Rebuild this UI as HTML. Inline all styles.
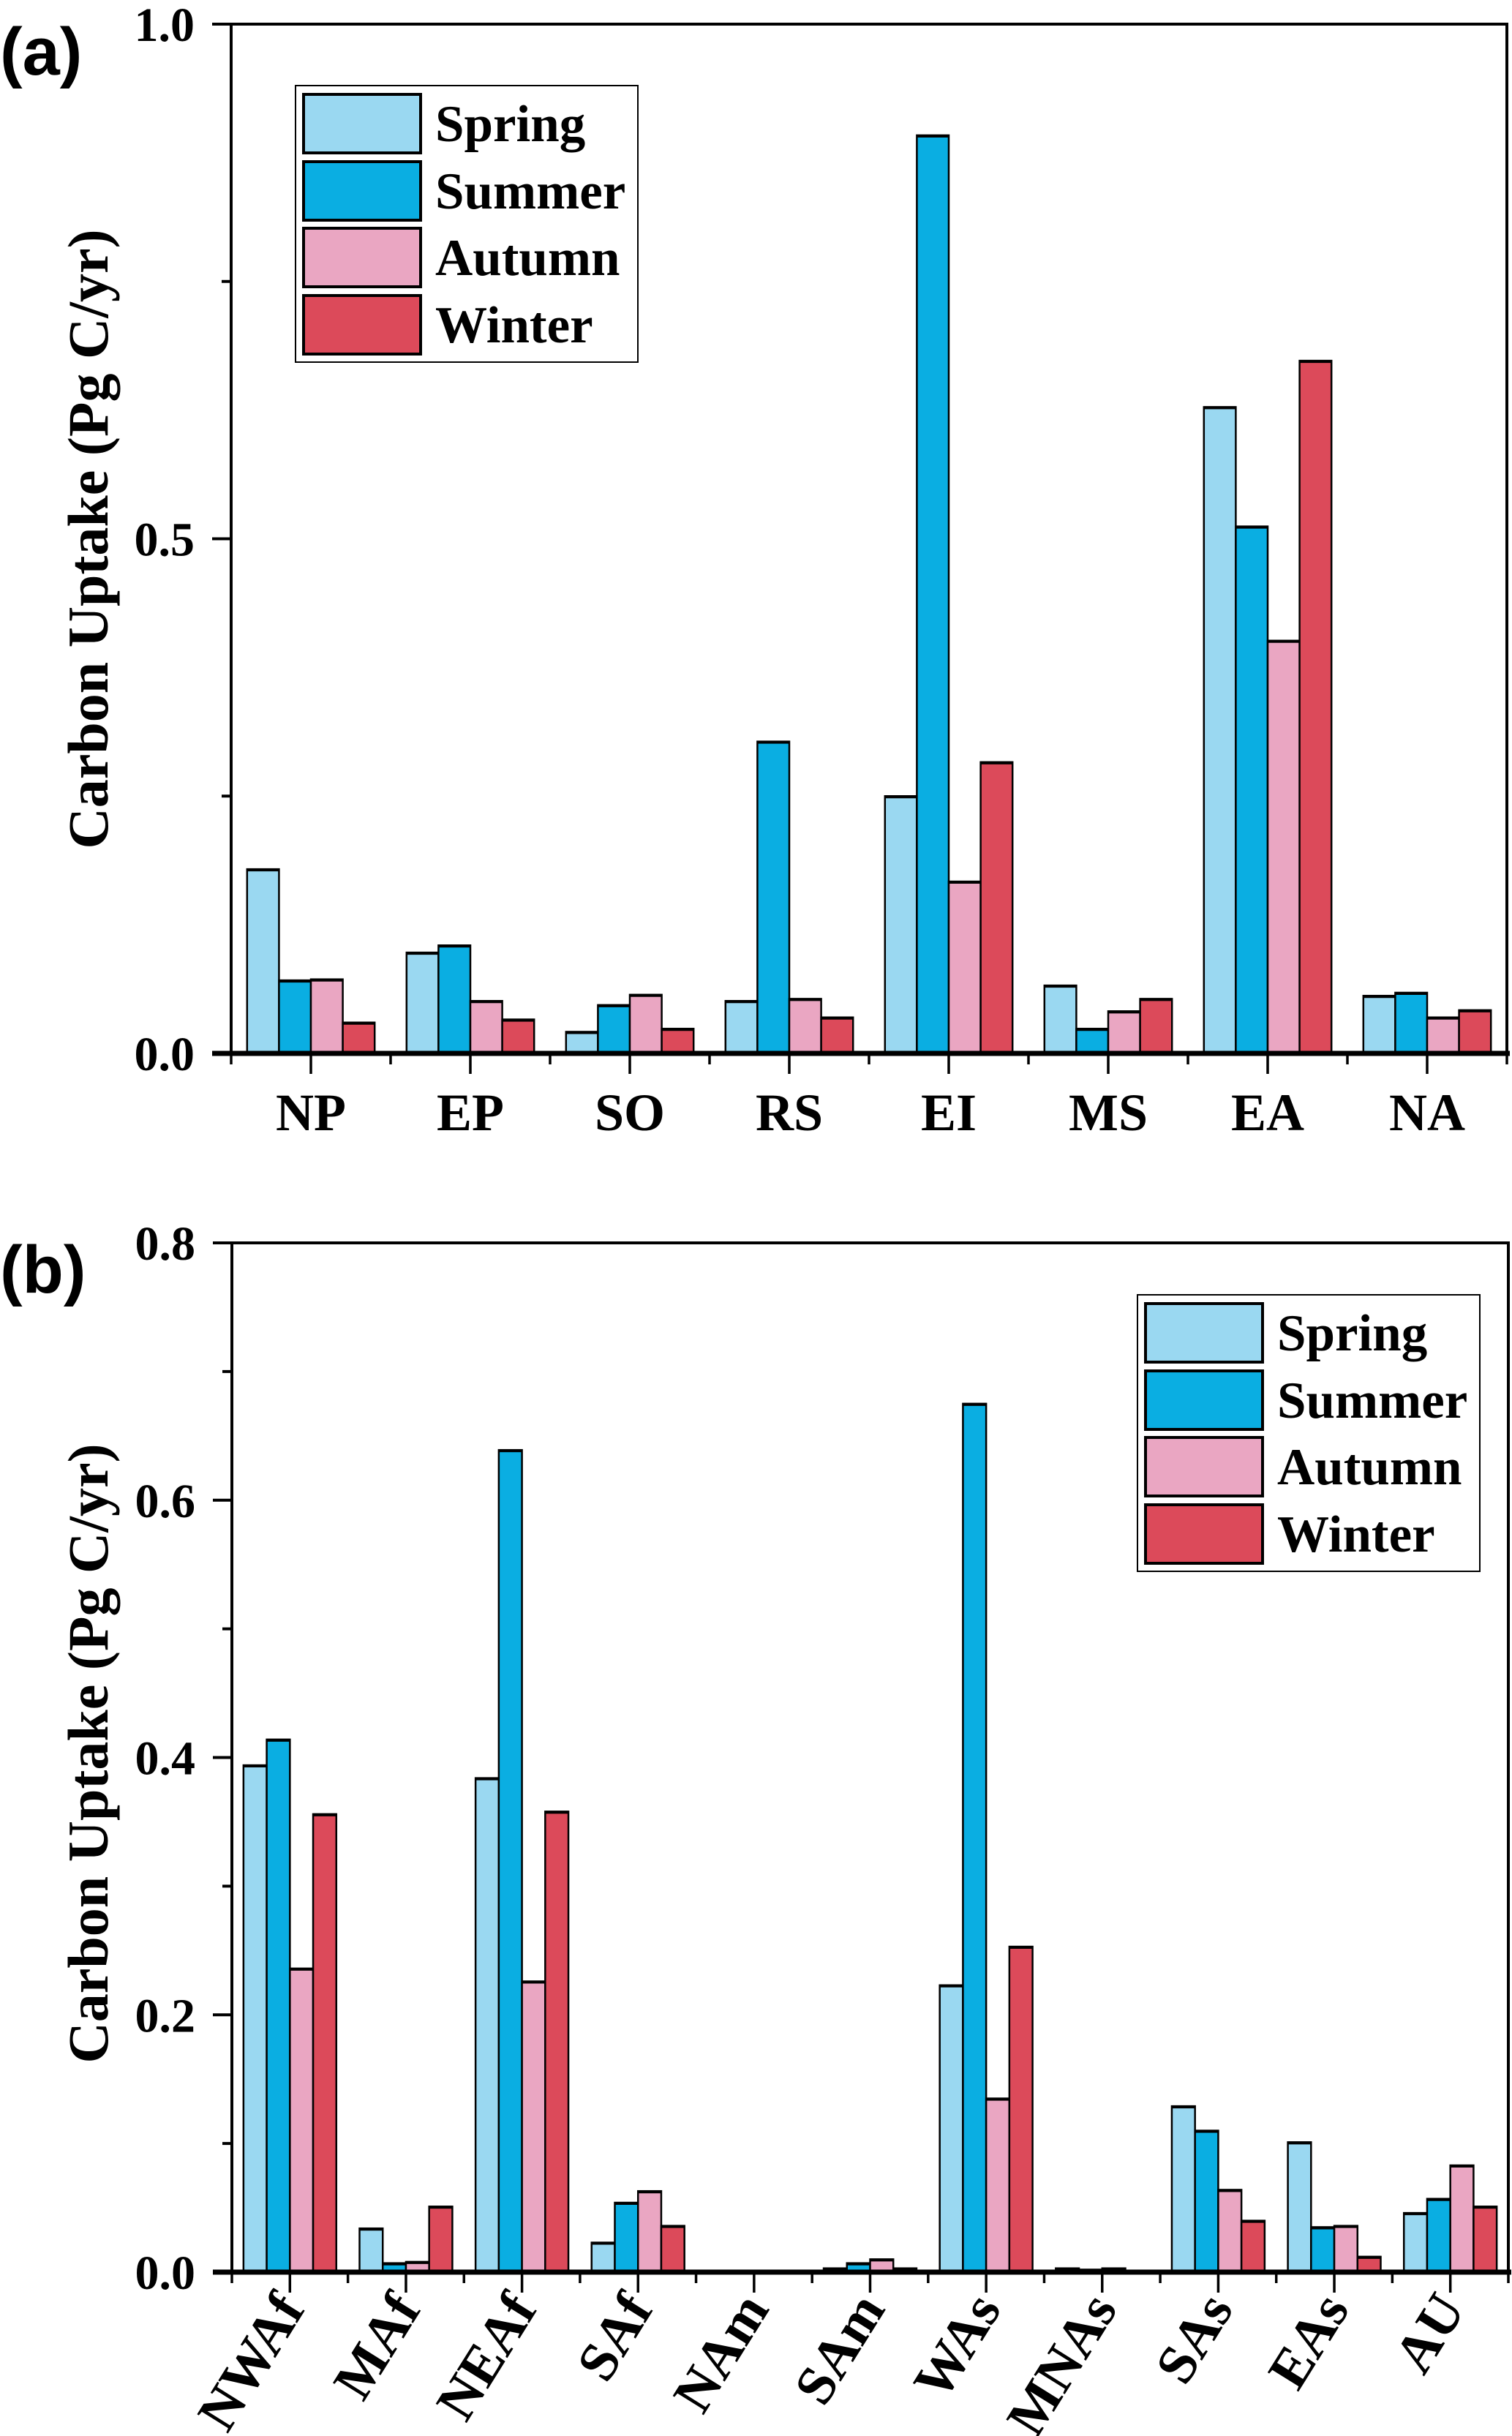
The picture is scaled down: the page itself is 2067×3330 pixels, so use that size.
<!DOCTYPE html>
<html><head><meta charset="utf-8"><style>
html,body{margin:0;padding:0;background:#fff;}
svg{display:block;}
text{font-family:"Liberation Serif",serif;font-weight:bold;fill:#000;}
.pl{font-family:"Liberation Sans",sans-serif;font-weight:bold;}
</style></head><body>
<svg id="fig" width="2067" height="3330" viewBox="0 0 2067 3330" xmlns="http://www.w3.org/2000/svg"></svg>
<script>
const seasons = ["Spring","Summer","Autumn","Winter"];
const colors = ["#9AD8F1","#0AAEE2","#EAA6C2","#DC4A5A"];
// Panel (a)
const catsA = ["NP","EP","SO","RS","EI","MS","EA","NA"];
const springA = [0.179,0.098,0.021,0.051,0.250,0.066,0.628,0.056];
const summerA = [0.071,0.105,0.047,0.303,0.892,0.024,0.512,0.059];
const autumnA = [0.072,0.051,0.057,0.053,0.167,0.041,0.401,0.035];
const winterA = [0.030,0.033,0.024,0.035,0.283,0.053,0.673,0.042];
const ticksA = ["0.0","0.5","1.0"];
// Panel (b)
const catsB = ["NWAf","MAf","NEAf","SAf","NAm","SAm","WAs","MNAs","SAs","EAs","AU"];
const springB = [0.394,0.034,0.384,0.023,0.001,0.003,0.223,0.003,0.129,0.101,0.046];
const summerB = [0.414,0.007,0.639,0.054,0.000,0.007,0.675,0.002,0.110,0.035,0.057];
const autumnB = [0.236,0.008,0.226,0.063,0.001,0.010,0.135,0.003,0.064,0.036,0.083];
const winterB = [0.356,0.051,0.358,0.036,0.000,0.003,0.253,0.000,0.040,0.012,0.051];
const ticksB = ["0.0","0.2","0.4","0.6","0.8"];

const NS="http://www.w3.org/2000/svg";
const svg=document.getElementById('fig');
function el(tag,attrs,parent,txt){const e=document.createElementNS(NS,tag);for(const k in attrs)e.setAttribute(k,attrs[k]);if(txt!==undefined)e.textContent=txt;(parent||svg).appendChild(e);return e;}

function panel(o){
  const g=el('g',{});
  
  
  const x0=o.x0,x1=o.x1,y0=o.y0,yTop=o.yTop,ymax=o.ymax;
  const ys=v=>y0-(v/ymax)*(y0-yTop);
  const n=o.cats.length, gw=(x1-x0)/n, bw=gw*0.2;
  const series=[o.s0,o.s1,o.s2,o.s3];
  for(let i=0;i<n;i++){
    const gx=x0+i*gw+(gw-4*bw)/2;
    for(let s=0;s<4;s++){
      const v=series[s][i], y=ys(v);
      const r=el('rect',{x:gx+s*bw,y:y,width:bw,height:Math.max(0,y0-y),fill:colors[s],stroke:'#000','stroke-width':2.5},g);
      
      
      if(y0-y>0){const t=el('line',{x1:gx+s*bw,x2:gx+(s+1)*bw,y1:y+1,y2:y+1,stroke:'#000','stroke-width':4},g);
        
        }
    }
  }
  const fr=el('path',{d:`M${x0-26} ${yTop} H${x1} V${y0} M${x0} ${yTop} V${y0}`,fill:'none',stroke:'#000','stroke-width':4},g);
  
  
  const xa=el('line',{x1:x0-26,x2:x1+4,y1:y0,y2:y0,stroke:'#000','stroke-width':7},g);
  
  
  const step=ymax/(o.ticks.length-1);
  for(let k=0;k<o.ticks.length;k++){
    const v=k*step, y=ys(v);
    el('line',{x1:x0-26,x2:x0,y1:y,y2:y,stroke:'#000','stroke-width':4},g);
    const t=el('text',{x:x0-50,y:y+23,'text-anchor':'end','font-size':66},g,o.ticks[k]);
    
    
    if(k<o.ticks.length-1){const ym=ys(v+step/2);el('line',{x1:x0-13,x2:x0,y1:ym,y2:ym,stroke:'#000','stroke-width':4},g);}
  }
  for(let i=0;i<=n;i++){const x=x0+i*gw;el('line',{x1:x,x2:x,y1:y0,y2:y0+15,stroke:'#000','stroke-width':3.5},g);}
  for(let i=0;i<n;i++){
    const x=x0+(i+0.5)*gw;
    el('line',{x1:x,x2:x,y1:y0,y2:y0+28,stroke:'#000','stroke-width':3.5},g);
    let t;
    if(o.rot){t=el('text',{x:x+22,y:y0+50,'text-anchor':'end','font-size':76,transform:`rotate(-58 ${x+22} ${y0+50})`},g,o.cats[i]);}
    else{t=el('text',{x:x,y:y0+105,'text-anchor':'middle','font-size':72},g,o.cats[i]);}
    
    
  }
  const yt=el('text',{x:121,y:o.titleY+26,'text-anchor':'middle','font-size':78,transform:`rotate(-90 121 ${o.titleY})`},g,'Carbon Uptake (Pg C/yr)');
  
  
  const pl=el('text',{x:0,y:o.plY,'font-size':92,class:'pl'},g,o.label);
  
  
  const lg=el('g',{},g);
  
  
  el('rect',{x:o.lx,y:o.ly,width:468,height:378,fill:'#fff',stroke:'#000','stroke-width':2},lg);
  const offs=[12,104,195,287];
  for(let s=0;s<4;s++){
    const e=el('g',{},lg);
    
    
    el('rect',{x:o.lx+11,y:o.ly+offs[s],width:160,height:80,fill:colors[s],stroke:'#000','stroke-width':4},e);
    el('text',{x:o.lx+191,y:o.ly+offs[s]+64,'font-size':71},e,seasons[s]);
  }
}
panel({name:'panel-a',x0:316,x1:2060,y0:1440,yTop:33,ymax:1.0,cats:catsA,s0:springA,s1:summerA,s2:autumnA,s3:winterA,ticks:ticksA,rot:false,titleY:737,label:'(a)',plY:102,lx:404,ly:117});
panel({name:'panel-b',x0:317,x1:2062,y0:3106,yTop:1699,ymax:0.8,cats:catsB,s0:springB,s1:summerB,s2:autumnB,s3:winterB,ticks:ticksB,rot:true,titleY:2397,label:'(b)',plY:1767,lx:1555,ly:1770});
</script>
</body></html>
